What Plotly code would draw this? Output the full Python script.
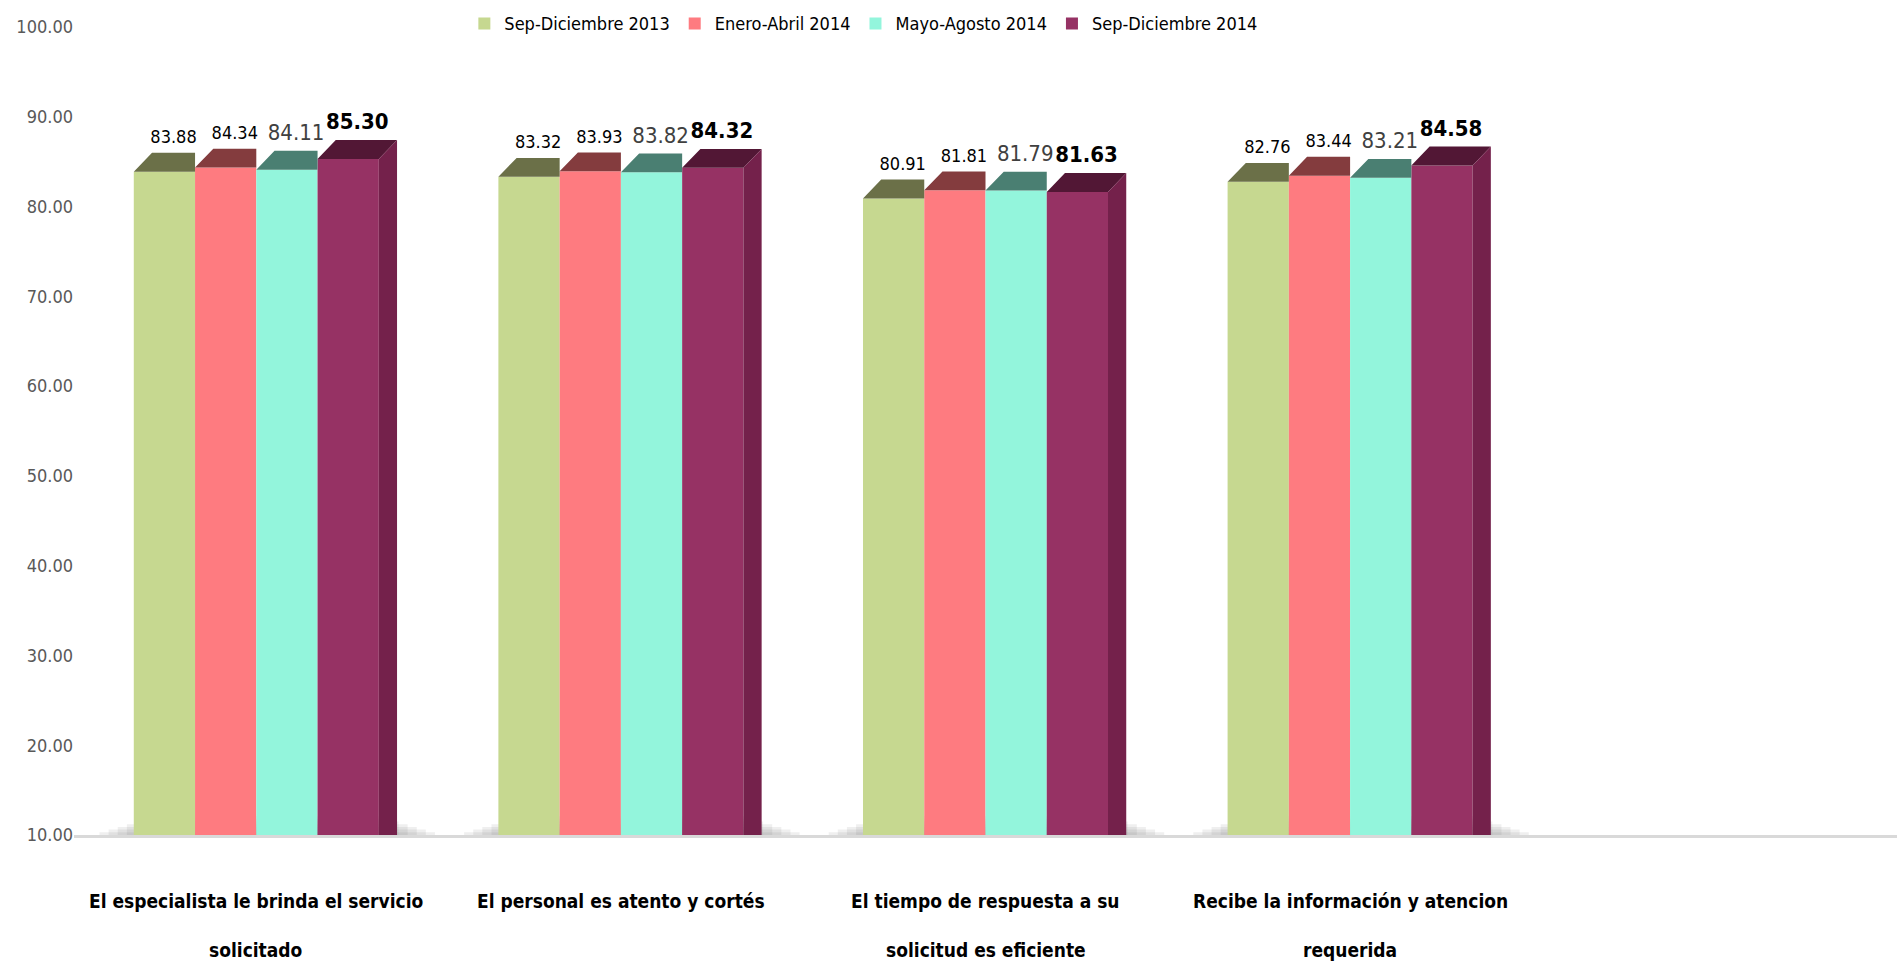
import plotly.graph_objects as go

# Survey questions (x categories); the empty slot keeps room on the right
categories = [
    "El especialista le brinda el servicio\nsolicitado",
    "El personal es atento y cortés",
    "El tiempo de respuesta a su\nsolicitud es eficiente",
    "Recibe la información y atencion\nrequerida",
    "",
]
periods = ["Sep-Diciembre 2013", "Enero-Abril 2014", "Mayo-Agosto 2014", "Sep-Diciembre 2014"]

sep_dic_2013 = [83.88, 83.32, 80.91, 82.76]
ene_abr_2014 = [84.34, 83.93, 81.81, 83.44]
may_ago_2014 = [84.11, 83.82, 81.79, 83.21]
sep_dic_2014 = [85.30, 84.32, 81.63, 84.58]

y_ticks = [10, 20, 30, 40, 50, 60, 70, 80, 90, 100]

series = [sep_dic_2013, ene_abr_2014, may_ago_2014, sep_dic_2014]

# styling
FONT = "DejaVu Sans Condensed, Roboto, sans-serif"
front_colors = ["#c6d890", "#fe7b80", "#93f5dc", "#963264"]
top_colors = ["#6b7048", "#843c3e", "#4a7f72", "#521735"]
side_color = "#74214b"
label_fonts = [
    dict(size=18, color="#000000", family=FONT),
    dict(size=18, color="#000000", family=FONT),
    dict(size=22, color="#404040", family=FONT),
    dict(size=22, color="#000000", family=FONT, weight="bold"),
]

bar_w = 0.168      # width of one bar (category units)
depth_x = 0.05     # horizontal depth of the 3D top/side
depth_y = 2.1      # vertical depth of the 3D top (value units)
label_pad = 0.6    # gap between the top face and its value label
n_series = len(series)
n_groups = len(series[0])

fig = go.Figure()


def bar_positions(i):
    offset = -n_series * bar_w / 2 + bar_w * (i + 0.5)
    return [g + offset for g in range(n_groups)]


# soft floor shadow under each group
for g in range(n_groups):
    for k in range(7):
        half = 0.45 - 0.025 * k
        fig.add_shape(
            type="rect", layer="below", xref="x", yref="y",
            x0=g - half + 0.02, x1=g + half + 0.04,
            y0=y_ticks[0], y1=y_ticks[0] + 0.3 + 0.3 * k,
            fillcolor="#6f6f6f", opacity=0.11, line=dict(width=0),
        )

# front faces
for i, (name, vals) in enumerate(zip(periods, series)):
    fig.add_trace(go.Bar(
        x=bar_positions(i), y=vals, width=bar_w, name=name,
        marker=dict(color=front_colors[i], line=dict(width=0)),
        hoverinfo="skip",
    ))

# top faces (and right side of the last bar in each group)
for i, vals in enumerate(series):
    last = i == n_series - 1
    xs, ys = [], []
    for xc, v in zip(bar_positions(i), vals):
        x0, x1 = xc - bar_w / 2, xc + bar_w / 2
        if last:
            xs += [x0, x1, x1 + depth_x, x0 + depth_x, x0, None]
        else:
            xs += [x0, x1, x1, x0 + depth_x, x0, None]
        ys += [v, v, v + depth_y, v + depth_y, v, None]
    fig.add_trace(go.Scatter(
        x=xs, y=ys, mode="lines", fill="toself", fillcolor=top_colors[i],
        line=dict(width=0), showlegend=False, hoverinfo="skip",
    ))
    if last:
        sx, sy = [], []
        for xc, v in zip(bar_positions(i), vals):
            x1 = xc + bar_w / 2
            sx += [x1, x1 + depth_x, x1 + depth_x, x1, x1, None]
            sy += [v, v + depth_y, y_ticks[0], y_ticks[0], v, None]
        fig.add_trace(go.Scatter(
            x=sx, y=sy, mode="lines", fill="toself", fillcolor=side_color,
            line=dict(width=0), showlegend=False, hoverinfo="skip",
        ))

# value labels
for i, vals in enumerate(series):
    fig.add_trace(go.Scatter(
        x=[p + depth_x / 2 for p in bar_positions(i)],
        y=[v + depth_y + label_pad for v in vals],
        mode="text", text=[f"{v:.2f}" for v in vals],
        textposition="top center", textfont=label_fonts[i],
        showlegend=False, hoverinfo="skip", cliponaxis=False,
    ))

# category labels below the axis, one annotation per line
for g, label in enumerate(categories):
    for j, line in enumerate(label.split("\n")):
        if not line:
            continue
        fig.add_annotation(
            x=g, xref="x", y=0, yref="paper", yanchor="middle",
            yshift=-66 - 49 * j, text=line, showarrow=False,
            font=dict(size=19, color="#000000", family=FONT, weight="bold"),
        )

fig.update_layout(
    width=1897, height=974,
    margin=dict(l=74, r=0, t=27, b=139),
    paper_bgcolor="white", plot_bgcolor="white",
    barmode="overlay",
    showlegend=True,
    legend=dict(
        orientation="h", x=0.433, xanchor="center", y=1.004, yanchor="middle",
        font=dict(size=18, color="#000000", family=FONT),
        itemwidth=30, bgcolor="rgba(0,0,0,0)",
    ),
    xaxis=dict(
        range=[-0.5, len(categories) - 0.5], showticklabels=False,
        showgrid=False, zeroline=False, showline=True,
        linecolor="#d9d9d9", linewidth=3, ticks="",
    ),
    yaxis=dict(
        range=[y_ticks[0], y_ticks[-1]], tickvals=y_ticks,
        ticktext=[f"{t:.2f}" for t in y_ticks],
        tickfont=dict(size=18, color="#595959", family=FONT),
        showgrid=False, zeroline=False, showline=False, ticks="",
    ),
)

fig.write_html("out.html")
